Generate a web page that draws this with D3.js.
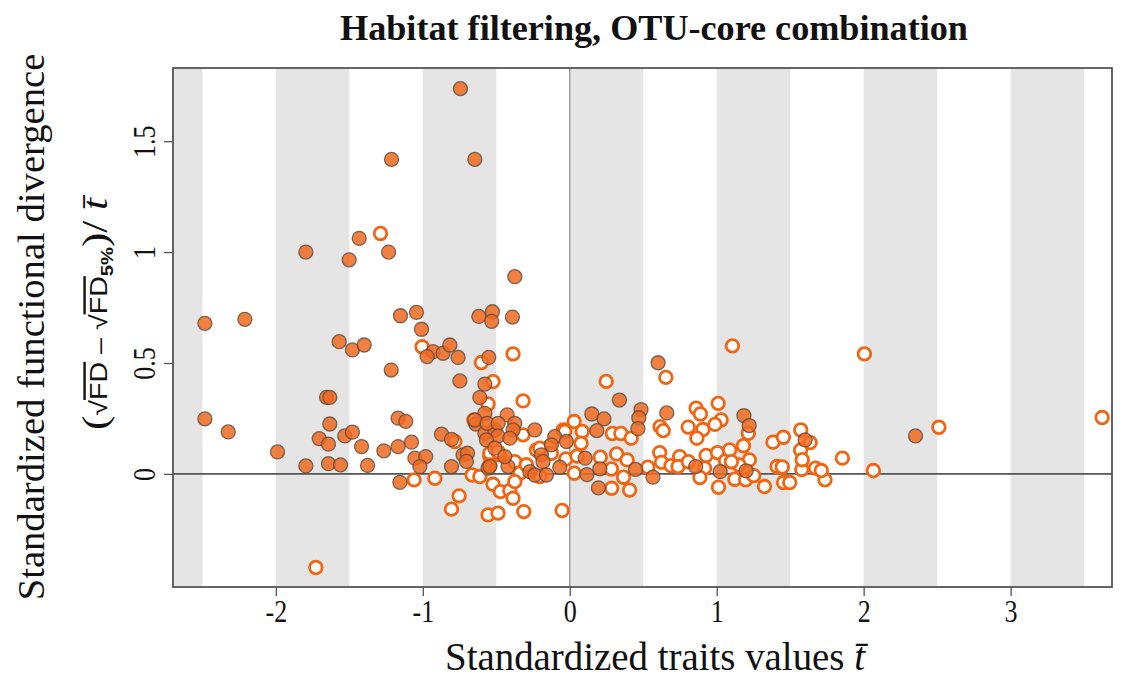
<!DOCTYPE html>
<html><head><meta charset="utf-8">
<script src="https://cdn.jsdelivr.net/npm/d3@7"></script>
<style>body{margin:0;background:#fff}svg{display:block}</style>
</head><body>
<svg id="c" width="1128" height="682"></svg>
<script>
// ---- data ----
const title = "Habitat filtering, OTU-core combination";
const xTicks = [-2, -1, 0, 1, 2, 3];
const yTicks = [0, 0.5, 1, 1.5];
const bandStarts = [-3, -2, -1, 0, 1, 2, 3];
// filled points (x, y)
const filledX = [-0.744,-1.213,-0.646,-1.433,-1.796,-1.501,-1.233,-0.374,-2.483,-2.211,-1.152,-1.043,-0.619,-0.526,-0.531,-0.390,-1.009,-0.930,-0.971,-0.862,-0.816,-0.760,-1.569,-1.479,-1.399,-1.215,-0.748,-0.551,-0.578,-0.612,-1.655,-1.633,-2.483,-2.324,-1.633,-1.168,-1.116,-1.705,-1.642,-1.531,-1.479,-1.417,-1.265,-1.168,-1.077,-1.989,-1.796,-1.642,-1.560,-1.376,-1.054,-0.980,-1.020,-0.873,-0.805,-0.805,-0.726,-0.696,-0.703,-0.639,-0.578,-0.578,-0.510,-0.556,-1.156,-0.426,-0.646,-0.563,-0.488,-0.374,-0.386,-0.238,-0.488,-0.408,-0.567,-0.510,-0.544,-0.420,-0.442,-0.272,-0.238,-0.193,-0.182,-0.159,-0.102,-0.125,-0.023,0.150,0.233,0.184,0.105,0.117,-0.068,0.195,0.338,0.485,0.470,0.464,0.660,1.185,1.221,0.205,0.447,0.566,0.857,1.023,1.200,0.601,1.602,2.353];
const filledY = [1.737,1.418,1.418,1.062,1.000,0.965,1.000,0.889,0.679,0.697,0.713,0.728,0.710,0.731,0.688,0.707,0.652,0.551,0.529,0.544,0.581,0.525,0.596,0.559,0.581,0.468,0.419,0.525,0.405,0.344,0.345,0.345,0.248,0.189,0.225,0.251,0.237,0.159,0.134,0.171,0.188,0.123,0.104,0.123,0.143,0.099,0.036,0.046,0.041,0.038,0.071,0.078,0.033,0.179,0.156,0.033,0.086,0.093,0.056,0.225,0.273,0.183,0.198,0.026,-0.038,0.266,0.243,0.228,0.228,0.228,0.198,0.198,0.171,0.161,0.153,0.116,0.033,0.033,0.078,0.010,-0.005,0.086,0.055,-0.005,0.168,0.131,0.146,0.270,0.248,0.195,0.071,-0.003,0.030,-0.063,0.333,0.290,0.253,0.204,0.275,0.263,0.218,0.023,0.020,-0.015,0.033,0.010,0.014,0.501,0.153,0.171];
// open points (x, y)
const openX = [-1.288,-1.005,-0.601,-0.522,-0.556,-0.653,-0.782,-0.544,-0.664,-1.059,-0.918,-0.753,-0.805,-0.556,-0.488,-0.313,-0.052,-1.728,-0.386,-0.318,-0.522,-0.472,-0.408,-0.386,-0.612,-0.318,-0.476,-0.374,-0.340,-0.374,-0.295,-0.204,-0.227,-0.136,-0.045,0.030,0.085,0.077,0.031,-0.027,0.049,0.248,0.654,0.615,0.636,0.860,0.889,1.010,1.030,0.988,0.806,0.906,0.865,1.215,1.383,0.290,0.348,0.418,0.208,0.319,0.390,0.283,0.366,0.285,0.407,0.531,0.612,0.624,0.689,0.748,0.737,0.807,0.928,1.005,0.918,0.886,1.012,1.060,1.088,1.182,1.222,1.123,1.325,1.152,1.197,1.252,1.107,2.005,3.623,2.512,2.066,1.855,1.737,1.672,1.579,1.572,1.636,1.571,1.582,1.454,1.411,1.446,1.455,1.497,1.712,1.100,-0.204,-0.125,-0.034,-0.544,-0.488,-0.544];
const openY = [1.084,0.573,0.502,0.416,0.315,0.243,0.146,0.078,-0.005,-0.027,-0.020,-0.099,-0.159,-0.185,-0.177,-0.170,-0.165,-0.422,0.541,0.329,-0.047,-0.080,-0.075,-0.110,-0.012,0.176,0.086,0.055,0.003,-0.035,0.041,-0.012,0.108,0.123,0.198,0.236,0.191,0.138,0.003,0.067,0.080,0.417,0.435,0.213,0.195,0.296,0.270,0.318,0.243,0.223,0.211,0.200,0.161,0.183,0.143,0.182,0.182,0.161,0.075,0.090,0.063,0.022,-0.015,-0.065,-0.073,0.030,0.096,0.052,0.037,0.078,0.033,0.055,0.083,0.096,0.026,-0.016,-0.060,0.059,0.108,0.127,0.063,-0.024,-0.057,0.040,-0.027,-0.008,0.577,0.541,0.254,0.210,0.015,0.071,-0.027,0.026,0.020,0.198,0.141,0.107,0.064,0.165,0.033,0.031,-0.039,-0.039,0.015,0.055,0.116,0.093,0.191,0.093,0.100,0.040];

// ---- chart ----
const svg = d3.select("#c");
const L = 173, R = 1112, T = 68, B = 587;
const x = d3.scaleLinear().domain([-2.70, 3.69]).range([L, R]);
const y = d3.scaleLinear().domain([-0.51, 1.83]).range([B, T]);

svg.append("defs").append("clipPath").attr("id", "clip")
  .append("rect").attr("x", L).attr("y", T).attr("width", R - L).attr("height", B - T);

const plot = svg.append("g").attr("clip-path", "url(#clip)");
plot.selectAll("rect.band").data(bandStarts).join("rect")
  .attr("class", "band")
  .attr("x", d => x(d)).attr("width", d => x(d + 0.5) - x(d))
  .attr("y", T).attr("height", B - T).attr("fill", "#e5e5e5");

plot.append("line").attr("x1", x(0)).attr("x2", x(0)).attr("y1", T).attr("y2", B)
  .attr("stroke", "#8a8a8a").attr("stroke-width", 1.2);
plot.append("line").attr("x1", L).attr("x2", R).attr("y1", y(0)).attr("y2", y(0))
  .attr("stroke", "#555").attr("stroke-width", 1.8);

const openPts = openX.map((v, i) => [v, openY[i]]);
const filledPts = filledX.map((v, i) => [v, filledY[i]]);

plot.selectAll("circle.open").data(openPts).join("circle")
  .attr("class", "open")
  .attr("cx", d => x(d[0])).attr("cy", d => y(d[1])).attr("r", 6.3)
  .attr("fill", "#fff").attr("stroke", "#f26410").attr("stroke-width", 2.8);

plot.selectAll("circle.filled").data(filledPts).join("circle")
  .attr("class", "filled")
  .attr("cx", d => x(d[0])).attr("cy", d => y(d[1])).attr("r", 7)
  .attr("fill", "#f06a20").attr("fill-opacity", 0.85)
  .attr("stroke", "#5b4a40").attr("stroke-width", 1.3).attr("stroke-opacity", 0.8);

// frame
svg.append("rect").attr("x", L).attr("y", T).attr("width", R - L).attr("height", B - T)
  .attr("fill", "none").attr("stroke", "#555").attr("stroke-width", 1.8);

// axes
const serif = "'Liberation Serif','Times New Roman',serif";
const sans = "'Liberation Sans',Arial,sans-serif";

const xAxis = svg.append("g").attr("transform", `translate(0,${B})`)
  .call(d3.axisBottom(x).tickValues(xTicks).tickSize(9).tickSizeOuter(0).tickFormat(d => String(d)));
xAxis.select(".domain").remove();
xAxis.selectAll("line").attr("stroke", "#555").attr("stroke-width", 1.3);
xAxis.selectAll("text").attr("font-family", serif).attr("font-size", 26).attr("fill", "#111")
  .attr("y", null).attr("dy", null)
  .attr("transform", "translate(0,35) scale(1,1.22)");

const yAxis = svg.append("g").attr("transform", `translate(${L},0)`)
  .call(d3.axisLeft(y).tickValues(yTicks).tickSize(9).tickSizeOuter(0).tickFormat(d => String(d)));
yAxis.select(".domain").remove();
yAxis.selectAll("line").attr("stroke", "#555").attr("stroke-width", 1.3);
yAxis.selectAll("text")
  .attr("font-family", serif).attr("font-size", 26).attr("fill", "#111")
  .attr("x", null).attr("dy", null)
  .attr("text-anchor", "middle")
  .attr("transform", "translate(-18,0) rotate(-90) scale(1,1.22)");

// helper: horizontally fit a text to a target width
function fitH(sel, cx, by, target) {
  const w = sel.node().getComputedTextLength();
  sel.attr("transform", `translate(${cx},${by}) scale(${target / w},1)`);
}
function fitV(sel, bx, cy, target) {
  const w = sel.node().getComputedTextLength();
  sel.attr("transform", `translate(${bx},${cy}) rotate(-90) scale(${target / w},1)`);
}

// title
const tt = svg.append("text").attr("text-anchor", "middle")
  .attr("font-family", serif).attr("font-weight", "bold").attr("font-size", 35)
  .attr("fill", "#111").text(title);
fitH(tt, 654, 40, 628);

// x title
const xt = svg.append("text").attr("text-anchor", "middle")
  .attr("font-family", serif).attr("font-size", 39).attr("fill", "#111");
xt.append("tspan").text("Standardized traits values ");
xt.append("tspan").attr("font-style", "italic").text("t\u0304");
fitH(xt, 655, 670, 420);

// y titles
const y1 = svg.append("text").attr("text-anchor", "middle")
  .attr("font-family", serif).attr("font-size", 37).attr("fill", "#111")
  .text("Standardized functional divergence");
fitV(y1, 44, 327, 547);

const yt = svg.append("text").attr("text-anchor", "middle")
  .attr("font-family", sans).attr("font-size", 24).attr("fill", "#111");
yt.append("tspan").attr("font-family", serif).attr("font-size", 36).text("(");
yt.append("tspan").text("\u221A");
yt.append("tspan").attr("text-decoration", "overline").text("FD");
yt.append("tspan").text(" \u2013 \u221A");
yt.append("tspan").attr("text-decoration", "overline").text("FD");
yt.append("tspan").attr("font-size", 17).attr("font-weight", "bold").attr("dy", 6).text("5%");
yt.append("tspan").attr("font-family", serif).attr("font-size", 36).attr("dy", -6).text(")");
yt.append("tspan").attr("font-family", serif).attr("font-size", 36).text("/");
yt.append("tspan").attr("font-family", serif).attr("font-size", 36).attr("font-style", "italic").text(" t\u0304");
fitV(yt, 107, 314, 232);
</script>
</body></html>
